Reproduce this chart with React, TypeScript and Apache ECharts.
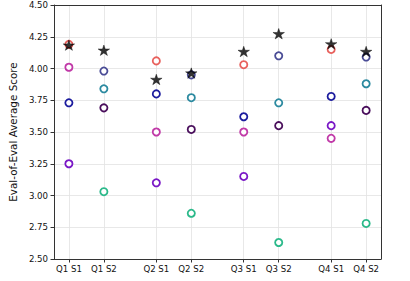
import React, { useEffect, useRef } from "react";
import * as echarts from "echarts";

const quarters = ["Q1", "Q2", "Q3", "Q4"];
const sessions = ["S1", "S2"];
const categories = ["Q1 S1", "Q1 S2", "Q2 S1", "Q2 S2", "Q3 S1", "Q3 S2", "Q4 S1", "Q4 S2"];
const yTicks = [2.5, 2.75, 3.0, 3.25, 3.5, 3.75, 4.0, 4.25, 4.5];

// S1 series (one value per quarter)
const s1Salmon = [4.19, 4.06, 4.03, 4.15];
const s1Magenta = [4.01, 3.5, 3.5, 3.45];
const s1DarkBlue = [3.73, 3.8, 3.62, 3.78];
const s1Purple = [3.25, 3.1, 3.15, 3.55];
// S2 series (one value per quarter)
const s2Slate = [3.98, 3.95, 4.1, 4.09];
const s2Teal = [3.84, 3.77, 3.73, 3.88];
const s2DarkPurple = [3.69, 3.52, 3.55, 3.67];
const s2Green = [3.03, 2.86, 2.63, 2.78];
// Star markers for every category
const starValues = [4.18, 4.14, 3.91, 3.96, 4.13, 4.27, 4.19, 4.13];

const FONT = "DejaVu Sans";
const STAR =
  "path://M0,-1 L0.2234,-0.3074 L0.9511,-0.309 L0.3614,0.1174 L0.5878,0.809 L0,0.38 L-0.5878,0.809 L-0.3614,0.1174 L-0.9511,-0.309 L-0.2234,-0.3074 Z";

const pos = (q: number, s: number) => q * 2.5 + s;
const catPositions = categories.map((_, i) => pos(Math.floor(i / 2), i % 2));
const xMin = -0.425;
const xMax = 8.925;

export default function App() {
  const ref = useRef<HTMLDivElement>(null);
  useEffect(() => {
    if (!ref.current) return;
    const chart = echarts.init(ref.current, null, { renderer: "svg" });
    const circleSeries = (name: string, vals: number[], s: number, color: string) => ({
      name,
      type: "scatter",
      symbol: "circle",
      symbolSize: 7.2,
      itemStyle: { color: "#ffffff", borderColor: color, borderWidth: 1.8, opacity: 1 },
      data: vals.map((v, q) => [pos(q, s), v]),
      z: 3,
    });
    const labelFor = (v: number) => {
      const idx = catPositions.findIndex((p) => Math.abs(p - v) < 1e-6);
      return idx >= 0 ? categories[idx] : "";
    };
    chart.setOption({
      animation: false,
      grid: { left: 40, right: 29, top: 5, bottom: 22, containLabel: false },
      xAxis: [
        {
          type: "value",
          min: xMin,
          max: xMax,
          axisLine: { show: true, onZero: false, lineStyle: { color: "#333", width: 1 } },
          axisTick: { show: true, customValues: catPositions, length: 3.5, lineStyle: { color: "#333" } },
          axisLabel: {
            customValues: catPositions,
            formatter: (v: number) => labelFor(v),
            fontFamily: FONT,
            fontSize: 8.6,
            color: "#111",
            margin: 5,
          },
          splitLine: { show: false },
        },
        {
          type: "value",
          position: "top",
          min: xMin,
          max: xMax,
          axisLine: { show: true, onZero: false, lineStyle: { color: "#333", width: 1 } },
          axisTick: { show: false },
          axisLabel: { show: false },
          splitLine: { show: false },
        },
      ],
      yAxis: [
        {
          type: "value",
          min: 2.5,
          max: 4.5,
          interval: 0.25,
          name: "Eval-of-Eval Average Score",
          nameLocation: "middle",
          nameRotate: 90,
          nameGap: 36,
          nameTextStyle: { fontFamily: FONT, fontSize: 10.4, color: "#111", verticalAlign: "bottom" },
          axisLine: { show: true, onZero: false, lineStyle: { color: "#333", width: 1 } },
          axisTick: { show: true, length: 3.5, lineStyle: { color: "#333" } },
          axisLabel: {
            formatter: (v: number) => v.toFixed(2),
            fontFamily: FONT,
            fontSize: 8.6,
            color: "#111",
            margin: 6,
          },
          splitLine: { show: true, lineStyle: { color: "#e2e2e2", width: 0.8 } },
        },
        {
          type: "value",
          position: "right",
          min: 2.5,
          max: 4.5,
          interval: 0.25,
          axisLine: { show: true, onZero: false, lineStyle: { color: "#333", width: 1 } },
          axisTick: { show: false },
          axisLabel: { show: false },
          splitLine: { show: false },
        },
      ],
      series: [
        {
          name: "grid",
          type: "scatter",
          data: [],
          silent: true,
          z: 0,
          markLine: {
            silent: true,
            z: 0,
            symbol: ["none", "none"],
            label: { show: false },
            lineStyle: { color: "#e2e2e2", width: 0.8, type: "solid" },
            data: catPositions.map((p) => ({ xAxis: p })),
          },
        },
        circleSeries("A", s1Salmon, 0, "#e8615d"),
        circleSeries("B", s1Magenta, 0, "#c13aa8"),
        circleSeries("C", s1DarkBlue, 0, "#1c1c9e"),
        circleSeries("D", s1Purple, 0, "#7a18c6"),
        circleSeries("E", s2Slate, 1, "#4a4c96"),
        circleSeries("F", s2Teal, 1, "#2c8aa0"),
        circleSeries("G", s2DarkPurple, 1, "#4a0f5c"),
        circleSeries("H", s2Green, 1, "#2bb98a"),
        {
          name: "Average",
          type: "scatter",
          symbol: STAR,
          symbolKeepAspect: true,
          symbolSize: [11.5, 11],
          symbolOffset: [0, -0.5],
          itemStyle: { color: "#000", borderColor: "#000", borderWidth: 0.5 },
          data: starValues.map((v, i) => [catPositions[i], v]),
          z: 5,
        },
      ],
    });
    return () => chart.dispose();
  }, []);
  return (
    <div
      ref={ref}
      style={{ position: "absolute", left: 0, top: 0, width: 410, height: 281 }}
    />
  );
}
